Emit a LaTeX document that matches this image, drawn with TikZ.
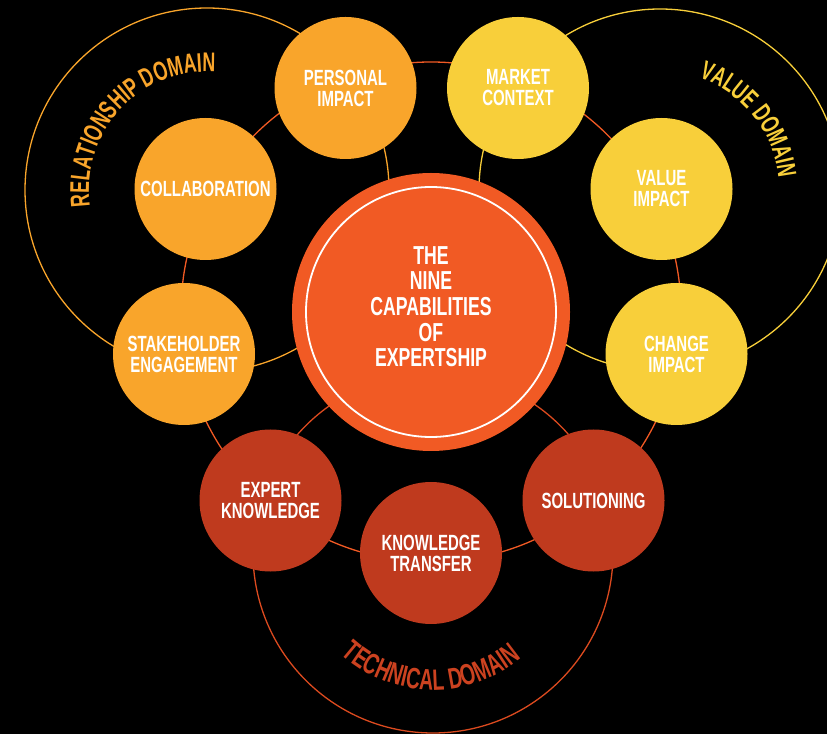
\documentclass[tikz,border=0pt]{standalone}
\usepackage{fontspec}
\usetikzlibrary{decorations.text}

% condensed bold faces for the labels
\newfontfamily\capfont{Liberation Sans}[UprightFont={* Bold},FakeStretch=0.68]
\newfontfamily\domfont{Liberation Sans}[UprightFont={* Bold},FakeStretch=0.66]
\newcommand\reldomfont{\domfont\fontsize{27pt}{27pt}\selectfont}
\newcommand\valdomfont{\domfont\fontsize{26.5pt}{26.5pt}\selectfont}
\newcommand\techdomfont{\domfont\fontsize{29.5pt}{29.5pt}\selectfont}

\definecolor{relorange}{HTML}{F9A52B}
\definecolor{valyellow}{HTML}{F8CF3A}
\definecolor{techred}{HTML}{BF3A1E}
\definecolor{hubred}{HTML}{F15A24}
\definecolor{techline}{HTML}{DC4A1F}
\definecolor{techtext}{HTML}{CC4220}

\begin{document}
\begin{tikzpicture}[x=1pt,y=1pt,
  capnode/.style={circle, minimum size=142pt, inner sep=0pt, text=white,
    align=center, font=\capfont\fontsize{22pt}{21pt}\selectfont},
  relcap/.style={capnode, fill=relorange},
  valcap/.style={capnode, fill=valyellow},
  techcap/.style={capnode, fill=techred},
  ring/.style={line width=1.3pt},
]
\useasboundingbox (0,0) rectangle (827,734);
\fill[black] (0,0) rectangle (827,734);
\clip (0,0) rectangle (827,734);

% centres of the domain rings and of the linking ring
\coordinate (relc) at (207,544);
\coordinate (valc) at (660,544);
\coordinate (techc) at (433,181);
\coordinate (hubc) at (431,422);

% domain rings
\draw[ring, relorange] (relc) circle[radius=182pt];
\draw[ring, valyellow] (valc) circle[radius=181pt];
\draw[ring, techline] (techc) circle[radius=180pt];

% ring linking the nine capabilities
\draw[ring, hubred] (hubc) circle[radius=250pt];

% relationship domain
\node[relcap] (personal) at (345.5,646) {PERSONAL\\IMPACT};
\node[relcap] (collab) at (205.5,545) {COLLABORATION};
\node[relcap] (stake) at (184,380) {STAKEHOLDER\\ENGAGEMENT};

% value domain
\node[valcap] (market) at (518,646) {MARKET\\CONTEXT};
\node[valcap] (value) at (661.5,545) {VALUE\\IMPACT};
\node[valcap] (change) at (676.5,380) {CHANGE\\IMPACT};

% technical domain
\node[techcap] (expert) at (270.5,233.5) {EXPERT\\KNOWLEDGE};
\node[techcap] (transfer) at (431,181) {KNOWLEDGE\\TRANSFER};
\node[techcap] (solution) at (593.5,233.5) {SOLUTIONING};

% central hub
\node[circle, fill=hubred, minimum size=278pt, inner sep=0pt] (hub) at (hubc) {};
\draw[white, line width=1.8pt] (hub.center) circle[radius=125pt];
\node[text=white, align=center, font=\capfont\fontsize{26pt}{25.6pt}\selectfont]
  (hubtext) at (431,427.3) {THE\\NINE\\CAPABILITIES\\OF\\EXPERTSHIP};

% domain titles set along arcs
\path[decorate, decoration={text along path, text align=center,
    text color=relorange, text={|\reldomfont|RELATIONSHIP DOMAIN}}]
  (relc) ++(212:118pt) arc[start angle=212, end angle=62, radius=118pt];
\path[decorate, decoration={text along path, text align=center,
    text color=valyellow, text={|\valdomfont|VALUE DOMAIN}}]
  (valc) ++(108:119pt) arc[start angle=108, end angle=-31, radius=119pt];
\path[decorate, decoration={text along path, text align=center,
    text color=techtext, text={|\techdomfont|TECHNICAL DOMAIN}}]
  (techc) ++(199:137pt) arc[start angle=199, end angle=339, radius=137pt];
\end{tikzpicture}
\end{document}
